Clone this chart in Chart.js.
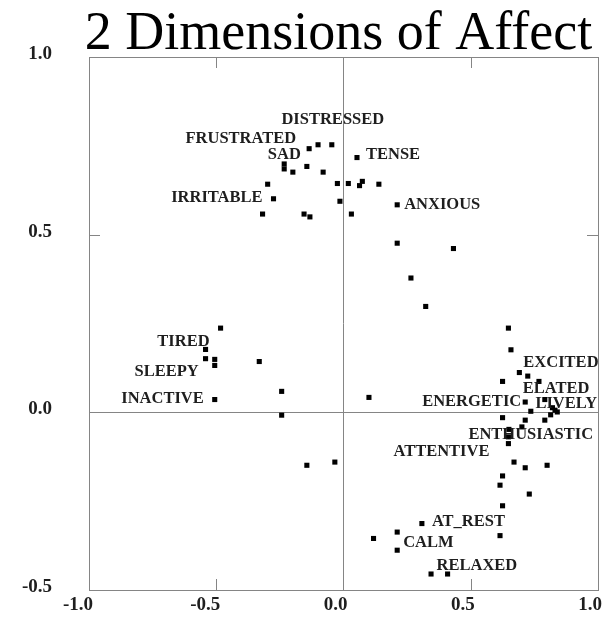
<!DOCTYPE html>
<html>
<head>
<meta charset="utf-8">
<title>2 Dimensions of Affect</title>
<script src="https://cdn.jsdelivr.net/npm/chart.js@4.4.1/dist/chart.umd.min.js"></script>
<style>
	html, body { margin: 0; padding: 0; background: #ffffff; }
	#affect-chart { display: block; }
</style>
</head>
<body>
<canvas id="affect-chart" width="602" height="619"></canvas>
<script>
	/* data */
	var affectX = [
		-0.135, -0.100, -0.046, 0.053, -0.233, -0.233, -0.199, -0.144, -0.080, -0.298,
		-0.024, 0.019, 0.063, 0.074, 0.139, -0.275, -0.014, 0.211, -0.318, -0.155,
		-0.132, 0.031, 0.211, 0.432, 0.265, 0.323, -0.483, -0.542, -0.542, -0.506,
		-0.506, -0.331, -0.243, -0.506, -0.243, 0.100, 0.648, 0.658, 0.691, 0.724,
		0.625, 0.768, 0.791, 0.714, 0.736, 0.821, 0.831, 0.840, 0.814, 0.791,
		0.625, 0.714, 0.701, 0.650, 0.648, 0.648, 0.670, 0.714, 0.800, 0.625,
		0.615, 0.730, 0.625, 0.615, 0.308, 0.211, 0.118, 0.211, 0.344, 0.409,
		-0.144, -0.034
	];
	var affectY = [
		0.742, 0.753, 0.753, 0.717, 0.699, 0.685, 0.676, 0.692, 0.676, 0.642,
		0.644, 0.644, 0.638, 0.650, 0.642, 0.601, 0.594, 0.584, 0.558, 0.558,
		0.550, 0.558, 0.476, 0.461, 0.378, 0.298, 0.237, 0.177, 0.151, 0.149,
		0.132, 0.143, 0.059, 0.036, -0.008, 0.042, 0.237, 0.176, 0.112, 0.102,
		0.087, 0.087, 0.036, 0.029, 0.003, 0.013, 0.006, 0.001, -0.007, -0.022,
		-0.015, -0.022, -0.041, -0.048, -0.069, -0.088, -0.140, -0.156, -0.149, -0.179,
		-0.205, -0.230, -0.263, -0.347, -0.313, -0.337, -0.355, -0.388, -0.455, -0.455,
		-0.149, -0.140
	];

	// named points : name + index of the point it belongs to
	var labelNames = ["DISTRESSED", "FRUSTRATED", "SAD", "TENSE", "IRRITABLE", "ANXIOUS",
		"TIRED", "SLEEPY", "INACTIVE", "EXCITED", "ELATED", "LIVELY", "ENERGETIC",
		"ENTHUSIASTIC", "ATTENTIVE", "AT_REST", "CALM", "RELAXED"];
	var labelPoint = [2, 0, 7, 3, 15, 17, 27, 30, 33, 38, 42, 45, 43, 54, 55, 64, 67, 69];

	var xTickValues = [-1.0, -0.5, 0.0, 0.5, 1.0];
	var yTickValues = [-0.5, 0.0, 0.5, 1.0];

	var chartTitle = "2 Dimensions of Affect";

	// where each name sits next to its point (align, dx, dy in px)
	var labelPlacement = [
		['center', 1, -25], ['right', -13, -10], ['right', -6, -12], ['left', 9, -3],
		['right', -11, -1], ['left', 7, 0], ['right', 4, -8], ['right', -16, 6],
		['right', -11, -1], ['left', 4, -10], ['left', -22, -11], ['left', -17, -4],
		['right', -4, 0], ['left', -40, -2], ['right', -19, 8], ['left', 10, -2],
		['left', 6, -7], ['left', -11, -8]
	];

	var frameColor = "#858585";

	var affectDecor = {
		id: 'affectDecor',
		afterDatasetsDraw: function(chart) {
			var ctx = chart.ctx;
			var xs = chart.scales.x, ys = chart.scales.y;
			ctx.save();
			ctx.font = 'bold 16.5px "Liberation Serif"';
			ctx.fillStyle = '#1e1e1e';
			ctx.textBaseline = 'middle';
			labelNames.forEach(function(name, i) {
				var p = labelPoint[i];
				var pl = labelPlacement[i];
				var px = xs.getPixelForValue(affectX[p]);
				var py = ys.getPixelForValue(affectY[p]);
				ctx.textAlign = pl[0];
				ctx.fillText(name, px + pl[1], py + pl[2]);
			});
			ctx.restore();
		},
		afterDraw: function(chart) {
			var ctx = chart.ctx;
			var a = chart.chartArea;
			var xs = chart.scales.x, ys = chart.scales.y;
			ctx.save();
			// frame
			ctx.strokeStyle = frameColor;
			ctx.lineWidth = 1;
			ctx.strokeRect(Math.round(a.left) + 0.5, Math.round(a.top) + 0.5,
				Math.round(a.right - a.left), Math.round(a.bottom - a.top));
			// inward tick marks
			ctx.beginPath();
			xTickValues.forEach(function(v) {
				if (v === xs.min || v === xs.max || v === 0) return;
				var px = Math.round(xs.getPixelForValue(v)) + 0.5;
				ctx.moveTo(px, a.bottom); ctx.lineTo(px, a.bottom - 11);
				ctx.moveTo(px, a.top); ctx.lineTo(px, a.top + 11);
			});
			yTickValues.forEach(function(v) {
				if (v === ys.min || v === ys.max || v === 0) return;
				var py = Math.round(ys.getPixelForValue(v)) + 0.5;
				ctx.moveTo(a.left, py); ctx.lineTo(a.left + 11, py);
				ctx.moveTo(a.right, py); ctx.lineTo(a.right - 11, py);
			});
			ctx.stroke();
			// title
			ctx.fillStyle = '#000000';
			ctx.font = '54px "Liberation Serif"';
			ctx.textAlign = 'center';
			ctx.textBaseline = 'alphabetic';
			ctx.fillText(chartTitle, 338.5, 49);
			ctx.restore();
		}
	};

	var tickFont = { family: '"Liberation Serif"', size: 19, weight: 'bold' };

	new Chart(document.getElementById("affect-chart"), {
		type: 'scatter',
		data: {
			datasets: [{
				data: affectX.map(function(x, i) { return { x: x, y: affectY[i] }; }),
				pointStyle: 'rect',
				pointRadius: 3.6,
				pointBorderWidth: 0,
				backgroundColor: '#000000',
				borderColor: '#000000'
			}]
		},
		options: {
			responsive: false,
			animation: false,
			events: [],
			layout: {
				padding: { top: 57, right: 3, bottom: 0, left: 0 }
			},
			plugins: {
				legend: { display: false },
				tooltip: { enabled: false },
				title: { display: false }
			},
			scales: {
				x: {
					type: 'linear',
					min: -1,
					max: 1,
					afterBuildTicks: function(scale) {
						scale.ticks = xTickValues.map(function(v) { return { value: v }; });
					},
					afterFit: function(scale) {
						scale.height = 29;
						scale.paddingLeft = 0;
						scale.paddingRight = 0;
					},
					grid: {
						drawTicks: false,
						color: function(c) { return c.tick && c.tick.value === 0 ? frameColor : 'rgba(0,0,0,0)'; }
					},
					border: { display: false },
					ticks: {
						font: tickFont,
						color: '#1e1e1e',
						padding: 4,
						align: 'end',
						labelOffset: 4,
						maxRotation: 0,
						autoSkip: false,
						callback: function(v) { return Number(v).toFixed(1); }
					}
				},
				y: {
					type: 'linear',
					min: -0.5,
					max: 1,
					afterBuildTicks: function(scale) {
						scale.ticks = yTickValues.map(function(v) { return { value: v }; });
					},
					afterFit: function(scale) {
						scale.width = 89;
						scale.paddingTop = 0;
						scale.paddingBottom = 0;
					},
					grid: {
						drawTicks: false,
						color: function(c) { return c.tick && c.tick.value === 0 ? frameColor : 'rgba(0,0,0,0)'; }
					},
					border: { display: false },
					ticks: {
						font: tickFont,
						color: '#1e1e1e',
						padding: 37,
						labelOffset: -3,
						autoSkip: false,
						callback: function(v) { return Number(v).toFixed(1); }
					}
				}
			}
		},
		plugins: [affectDecor]
	});
</script>
</body>
</html>
